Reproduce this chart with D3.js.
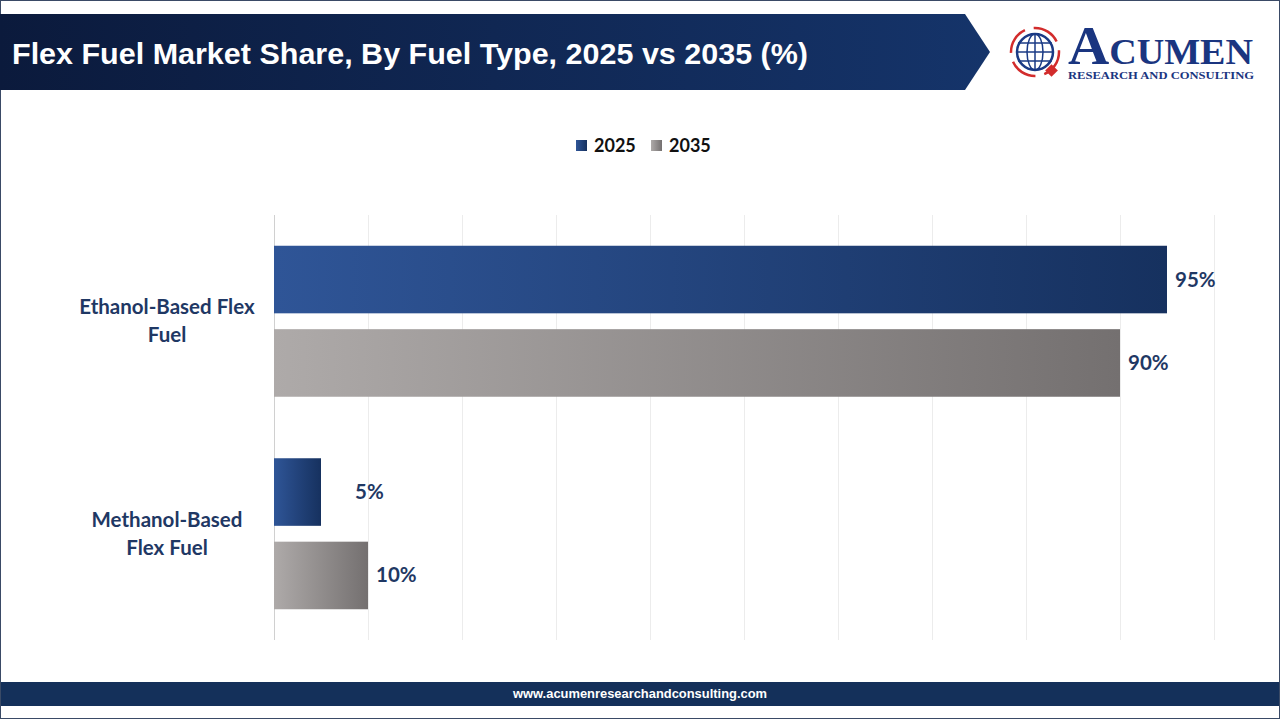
<!DOCTYPE html>
<html><head><meta charset="utf-8">
<script src="https://cdn.jsdelivr.net/npm/d3@7"></script>
<style>body{margin:0;background:#fff}svg{display:block}</style>
</head><body>
<svg id="c" width="1280" height="720"></svg>
<script>
const categories = ["Ethanol-Based Flex Fuel", "Methanol-Based Flex Fuel"];
const categoryLines = [["Ethanol-Based Flex", "Fuel"], ["Methanol-Based", "Flex Fuel"]];
const seriesNames = ["2025", "2035"];
const values2025 = [95, 5];
const values2035 = [90, 10];
const xTicks = [0, 10, 20, 30, 40, 50, 60, 70, 80, 90, 100];
const title = "Flex Fuel Market Share, By Fuel Type, 2025 vs 2035 (%)";
const footer = "www.acumenresearchandconsulting.com";

const svg = d3.select("#c");
const defs = svg.append("defs");
function grad(id, c0, c1) {
  const g = defs.append("linearGradient").attr("id", id).attr("x1","0%").attr("x2","100%").attr("y1","0%").attr("y2","0%");
  g.append("stop").attr("offset","0%").attr("stop-color",c0);
  g.append("stop").attr("offset","100%").attr("stop-color",c1);
}
grad("gBlue", "#2f5597", "#16315f");
grad("gGray", "#aeaaa9", "#747070");
grad("gHead", "#0b1a3c", "#15346a");

// outer frame
svg.append("rect").attr("x",0.5).attr("y",0.5).attr("width",1279).attr("height",718).attr("fill","none").attr("stroke","#3a4a66").attr("stroke-width",1);

// header banner
svg.append("path").attr("d","M0,14 L965,14 L990,52 L965,90 L0,90 Z").attr("fill","url(#gHead)");
svg.append("text").attr("x",12).attr("y",64).text(title)
  .attr("font-family","Liberation Sans, Arial, sans-serif").attr("font-weight","bold")
  .attr("font-size",30).attr("fill","#fff").attr("textLength",796).attr("lengthAdjust","spacingAndGlyphs");

// logo
const lg = svg.append("g").attr("transform","translate(1035,52)");
lg.append("circle").attr("r",24).attr("fill","none").attr("stroke","#d22c2c").attr("stroke-width",2.5).attr("stroke-dasharray","28 9");
lg.append("circle").attr("r",18).attr("fill","#fff").attr("stroke","#1a3a85").attr("stroke-width",2.5);
[-9,0,9].forEach(o=>{
  lg.append("line").attr("x1",-17).attr("x2",17).attr("y1",o).attr("y2",o).attr("stroke","#1a3a85").attr("stroke-width",1.5);
});
lg.append("ellipse").attr("rx",8).attr("ry",18).attr("fill","none").attr("stroke","#1a3a85").attr("stroke-width",1.5);
lg.append("line").attr("y1",-18).attr("y2",18).attr("stroke","#1a3a85").attr("stroke-width",1.5);
lg.append("rect").attr("x",12).attr("y",14).attr("width",9).attr("height",9).attr("fill","#d22c2c").attr("transform","rotate(45,16.5,18.5)");
const logoText = svg.append("text").attr("x",1068).attr("y",64).attr("font-family","Liberation Serif, serif").attr("font-weight","bold").attr("fill","#1a3580")
  .attr("textLength",185).attr("lengthAdjust","spacingAndGlyphs");
logoText.append("tspan").attr("font-size",54).text("A");
logoText.append("tspan").attr("font-size",36).text("CUMEN");
svg.append("text").attr("x",1068).attr("y",79).text("RESEARCH AND CONSULTING").attr("font-family","Liberation Serif, serif").attr("font-weight","bold").attr("font-size",10).attr("fill","#1a3580").attr("textLength",186).attr("lengthAdjust","spacingAndGlyphs");

// legend
const legendX = [576, 651];
const legendFill = ["url(#gBlue)", "url(#gGray)"];
seriesNames.forEach((s,i)=>{
  svg.append("rect").attr("x",legendX[i]).attr("y",140).attr("width",11).attr("height",11).attr("fill",legendFill[i]);
  svg.append("text").attr("x",legendX[i]+18).attr("y",152).text(s)
    .attr("font-family","Lato, sans-serif").attr("font-weight","bold").attr("font-size",18).attr("fill","#111");
});

// scales
const x = d3.scaleLinear().domain([0,100]).range([274,1214]);
const y = d3.scaleBand().domain(categories).range([215,640]).paddingInner(0).paddingOuter(0);
const inner = d3.scaleBand().domain(seriesNames).range([0, 151]).paddingInner(0.19);

// grid
svg.append("g").selectAll("line").data(xTicks).join("line")
  .attr("x1",d=>x(d)+0.5).attr("x2",d=>x(d)+0.5).attr("y1",215).attr("y2",640)
  .attr("stroke",d=>d===0?"#d0d0d0":"#ececec").attr("stroke-width",1);

const data = [];
categories.forEach((c,i)=>{
  data.push({c, s:"2025", v:values2025[i], f:"url(#gBlue)"});
  data.push({c, s:"2035", v:values2035[i], f:"url(#gGray)"});
});
const off = (y.bandwidth()-151)/2;
svg.append("g").selectAll("rect").data(data).join("rect")
  .attr("x",x(0)).attr("y",d=>y(d.c)+off+inner(d.s))
  .attr("width",d=>x(d.v)-x(0)).attr("height",inner.bandwidth()).attr("fill",d=>d.f);

svg.append("g").selectAll("text").data(data).join("text")
  .attr("x",d=>Math.max(x(d.v)+8, x(0)+81))
  .attr("y",d=>y(d.c)+off+inner(d.s)+inner.bandwidth()/2+7)
  .text(d=>d.v+"%")
  .attr("font-family","Lato, sans-serif").attr("font-weight","bold").attr("font-size",20.5).attr("fill","#1f3864");

// category labels
categories.forEach((c,i)=>{
  const cy = y(c)+y.bandwidth()/2;
  const t = svg.append("text").attr("text-anchor","middle")
    .attr("font-family","Lato, sans-serif").attr("font-weight","bold").attr("font-size",20.5).attr("fill","#1f3864");
  categoryLines[i].forEach((ln,j)=>{
    t.append("tspan").attr("x",167).attr("y",cy-7+j*28).text(ln);
  });
});

// footer
svg.append("rect").attr("x",1).attr("y",682).attr("width",1278).attr("height",24).attr("fill","#14305a");
svg.append("text").attr("x",513).attr("y",698).text(footer)
  .attr("font-family","Liberation Sans, Arial, sans-serif").attr("font-weight","bold").attr("font-size",13).attr("fill","#fff")
  .attr("textLength",254).attr("lengthAdjust","spacingAndGlyphs");
</script>
</body></html>
